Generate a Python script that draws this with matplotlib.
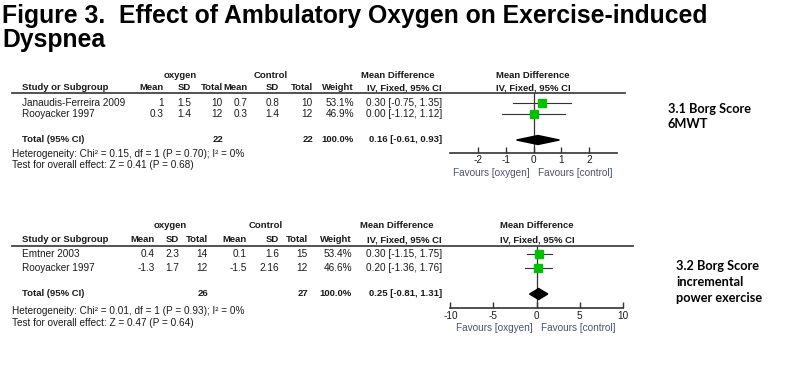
import matplotlib
matplotlib.use("Agg")
import matplotlib.pyplot as plt
from matplotlib.lines import Line2D
from matplotlib.patches import Polygon
import numpy as np

W, H = 800, 376

# ---- data: 3.1 Borg score 6MWT
studies_1 = ["Janaudis-Ferreira 2009", "Rooyacker 1997"]
o2_mean_1 = [1, 0.3]
o2_sd_1 = [1.5, 1.4]
o2_n_1 = [10, 12]
ct_mean_1 = [0.7, 0.3]
ct_sd_1 = [0.8, 1.4]
ct_n_1 = [10, 12]
weight_1 = [53.1, 46.9]
md_1 = [0.30, 0.00]
lo_1 = [-0.75, -1.12]
hi_1 = [1.35, 1.12]
total_1 = (22, 22, 0.16, -0.61, 0.93)
het_1 = "Heterogeneity: Chi² = 0.15, df = 1 (P = 0.70); I² = 0%"
test_1 = "Test for overall effect: Z = 0.41 (P = 0.68)"
ticks_1 = [-2, -1, 0, 1, 2]

# ---- data: 3.2 Borg score incremental power exercise
studies_2 = ["Emtner 2003", "Rooyacker 1997"]
o2_mean_2 = [0.4, -1.3]
o2_sd_2 = [2.3, 1.7]
o2_n_2 = [14, 12]
ct_mean_2 = [0.1, -1.5]
ct_sd_2 = [1.6, 2.16]
ct_n_2 = [15, 12]
weight_2 = [53.4, 46.6]
md_2 = [0.30, 0.20]
lo_2 = [-1.15, -1.36]
hi_2 = [1.75, 1.76]
total_2 = (26, 27, 0.25, -0.81, 1.31)
het_2 = "Heterogeneity: Chi² = 0.01, df = 1 (P = 0.93); I² = 0%"
test_2 = "Test for overall effect: Z = 0.47 (P = 0.64)"
ticks_2 = [-10, -5, 0, 5, 10]

plt.rcParams["font.family"] = ["Liberation Sans", "DejaVu Sans"]
TXT = "#1a1a1a"
FAV = "#4a5472"
FS = 7.2   # regular table text
FSB = 6.8  # bold table text

fig = plt.figure(figsize=(W / 100, H / 100), dpi=100)


def fx(x):
    return x / W


def fy(y):
    return 1 - y / H


def t(x, y, s, ha="left", bold=False, color=TXT, **kw):
    fig.text(fx(x), fy(y), s, ha=ha, va="center", fontsize=FSB if bold else FS,
             fontweight="bold" if bold else "normal", color=color, **kw)


def panel(lay, studies, o2m, o2s, o2n, ctm, cts, ctn, wt, md, lo, hi, total,
          het, test, ticks, xlim, fav_left):
    cols = lay["cols"]
    # group headers
    t(lay["o2_c"], lay["h1"], "oxygen", ha="center", bold=True)
    t(lay["ct_c"], lay["h1"], "Control", ha="center", bold=True)
    t(lay["md_c"], lay["h1"], "Mean Difference", ha="center", bold=True)
    t(lay["fp_c"], lay["h1"], "Mean Difference", ha="center", bold=True)
    t(22, lay["h2"], "Study or Subgroup", bold=True)
    for x, s in zip(cols, ["Mean", "SD", "Total", "Mean", "SD", "Total",
                           "Weight", "IV, Fixed, 95% CI"]):
        t(x, lay["h2"], s, ha="right", bold=True)
    t(lay["fp_c"], lay["h2"], "IV, Fixed, 95% CI", ha="center", bold=True)
    fig.add_artist(Line2D([fx(12), fx(lay["line_r"])],
                          [fy(lay["line"]), fy(lay["line"])],
                          color="#444444", lw=1.3))

    for i, name in enumerate(studies):
        y = lay["rows"][i]
        t(22, y, name)
        vals = [f"{o2m[i]:g}", f"{o2s[i]:g}", f"{o2n[i]}", f"{ctm[i]:g}",
                f"{cts[i]:g}", f"{ctn[i]}", f"{wt[i]:.1f}%",
                f"{md[i]:.2f} [{lo[i]:.2f}, {hi[i]:.2f}]"]
        for x, s in zip(cols, vals):
            t(x, y, s, ha="right")

    n1, n2, est, tlo, thi = total
    y = lay["total"]
    t(22, y, "Total (95% CI)", bold=True)
    t(cols[2], y, f"{n1}", ha="right", bold=True)
    t(cols[5], y, f"{n2}", ha="right", bold=True)
    t(cols[6], y, "100.0%", ha="right", bold=True)
    t(cols[7], y, f"{est:.2f} [{tlo:.2f}, {thi:.2f}]", ha="right", bold=True)
    t(12, lay["het"], het)
    t(12, lay["test"], test)

    # forest plot axes: top edge at header line, bottom edge at x axis
    x0, x1 = lay["ax_x"]
    top, bot = lay["line"], lay["axis"]
    ax = fig.add_axes([fx(x0), fy(bot), fx(x1) - fx(x0), (bot - top) / H])
    ax.set_xlim(*xlim)
    ax.set_ylim(bot - top, 0)
    ax.patch.set_alpha(0)
    for sp in ["top", "left", "right"]:
        ax.spines[sp].set_visible(False)
    ax.spines["bottom"].set_color("#333333")
    ax.spines["bottom"].set_linewidth(1.2)
    ax.set_yticks([])
    ax.set_xticks(ticks)
    ax.set_xticklabels([f"{v:g}" for v in ticks])
    ax.tick_params(axis="x", direction="in", length=4, width=1, color="#333333",
                   labelsize=FS, labelcolor=TXT, pad=lay["pad"])
    ax.axvline(0, color="#333333", lw=0.9, zorder=1)

    for i in range(len(studies)):
        y = lay["rows"][i] - top
        ax.plot([lo[i], hi[i]], [y, y], color="#333333", lw=0.8, zorder=2)
        ax.plot(md[i], y, marker="s", color="#00c000", mec="#00c000",
                ms=8.2 * np.sqrt(wt[i] / 100), zorder=3)
    yd = lay["total"] - top
    hh = lay["dh"]
    ax.add_patch(Polygon([(tlo, yd), (est, yd - hh), (thi, yd), (est, yd + hh)],
                         closed=True, color="black", zorder=3))

    ax.annotate(fav_left, xy=(0, 0), xycoords=("data", "axes fraction"),
                xytext=(-2.5, -14.5), textcoords="offset points",
                ha="right", va="center", fontsize=FS, color=FAV)
    ax.annotate("Favours [control]", xy=(0, 0),
                xycoords=("data", "axes fraction"),
                xytext=(3, -14.5), textcoords="offset points",
                ha="left", va="center", fontsize=FS, color=FAV)
    return ax


lay1 = dict(h1=76, h2=88, line=93, line_r=625, rows=[103, 114], total=140,
            het=154, test=165, axis=153, ax_x=(450, 617), dh=4.5, pad=1.5,
            o2_c=180, ct_c=271, md_c=398, fp_c=533,
            cols=[164, 191, 223, 248, 279, 313, 354, 442])
lay2 = dict(h1=226, h2=240, line=246, line_r=633, rows=[254, 268], total=294,
            het=311, test=323, axis=308, ax_x=(450, 623), dh=5.5, pad=2.5,
            o2_c=170, ct_c=266, md_c=397, fp_c=537,
            cols=[155, 179, 208, 247, 279, 308, 352, 442])

panel(lay1, studies_1, o2_mean_1, o2_sd_1, o2_n_1, ct_mean_1, ct_sd_1, ct_n_1,
      weight_1, md_1, lo_1, hi_1, total_1, het_1, test_1, ticks_1, (-3, 3),
      "Favours [oxygen]")
ax2 = panel(lay2, studies_2, o2_mean_2, o2_sd_2, o2_n_2, ct_mean_2, ct_sd_2,
            ct_n_2, weight_2, md_2, lo_2, hi_2, total_2, het_2, test_2,
            ticks_2, (-10, 10), "Favours [oxgyen]")
ax2.set_xlim(-10.05, 10.05)

# title
fig.text(fx(2), fy(23), "Figure 3.  Effect of Ambulatory Oxygen on Exercise-induced",
         ha="left", va="baseline", fontsize=17.8, fontweight="bold", color="black")
fig.text(fx(2), fy(47), "Dyspnea", ha="left", va="baseline", fontsize=17.8,
         fontweight="bold", color="black")

# side labels
side = dict(fontsize=9.2, fontweight="bold", color="black",
            family=["Lato", "DejaVu Sans"], ha="left", va="center")
fig.text(fx(668), fy(109), "3.1 Borg Score", **side)
fig.text(fx(668), fy(124), "6MWT", **side)
fig.text(fx(676), fy(266), "3.2 Borg Score", **side)
fig.text(fx(676), fy(282), "incremental", **side)
fig.text(fx(676), fy(298), "power exercise", **side)

fig.savefig("out.png", dpi=100, facecolor="white")
